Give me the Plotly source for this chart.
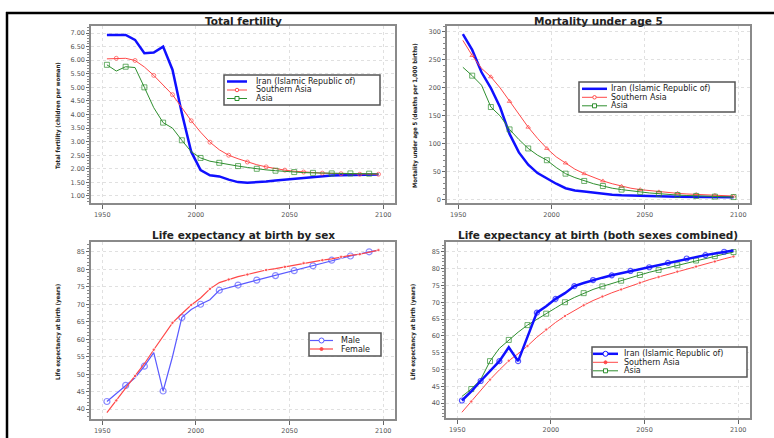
import plotly.graph_objects as go

W, H = 774, 438
FONT = "DejaVu Sans, Verdana, sans-serif"
NARROW = "DejaVu Sans Condensed, Liberation Sans Narrow, Arial Narrow, Liberation Sans, Arial, sans-serif"

# ---------------- data ----------------
years = [1952.5, 1957.5, 1962.5, 1967.5, 1972.5, 1977.5, 1982.5, 1987.5, 1992.5, 1997.5,
         2002.5, 2007.5, 2012.5, 2017.5, 2022.5, 2027.5, 2032.5, 2037.5, 2042.5, 2047.5,
         2052.5, 2057.5, 2062.5, 2067.5, 2072.5, 2077.5, 2082.5, 2087.5, 2092.5, 2097.5]

tfr_iran = [6.93, 6.93, 6.93, 6.75, 6.26, 6.28, 6.50, 5.65, 4.05, 2.63,
            1.95, 1.76, 1.72, 1.60, 1.51, 1.49, 1.50, 1.53, 1.57, 1.60,
            1.63, 1.66, 1.70, 1.73, 1.75, 1.76, 1.77, 1.78, 1.79, 1.79]
tfr_sasia = [6.05, 6.07, 6.07, 5.99, 5.75, 5.44, 5.10, 4.73, 4.25, 3.77,
             3.35, 2.98, 2.70, 2.50, 2.37, 2.25, 2.15, 2.07, 2.00, 1.95,
             1.91, 1.88, 1.86, 1.84, 1.83, 1.82, 1.81, 1.80, 1.80, 1.80]
tfr_asia = [5.83, 5.60, 5.76, 5.73, 5.00, 4.25, 3.70, 3.50, 3.05, 2.63,
            2.40, 2.28, 2.22, 2.15, 2.10, 2.05, 2.00, 1.96, 1.93, 1.90,
            1.88, 1.86, 1.85, 1.84, 1.83, 1.83, 1.83, 1.82, 1.82, 1.81]

u5_iran = [296, 268, 228, 200, 165, 118, 85, 63, 48, 38,
           29, 21, 17, 15, 13, 11, 9.5, 8.5, 7.8, 7.2,
           6.8, 6.4, 6.0, 5.7, 5.5, 5.3, 5.1, 5.0, 4.9, 4.8]
u5_sasia = [285, 258, 235, 220, 200, 176, 152, 130, 110, 92,
            77, 66, 55, 47, 40, 34, 29, 24.5, 21, 18.5,
            16.5, 14.5, 13, 11.8, 10.7, 9.8, 9.0, 8.2, 7.5, 7.0]
u5_asia = [237, 222, 205, 166, 150, 126, 108, 92, 80, 71,
           58, 47, 40, 34, 29, 25, 21, 18.5, 16, 14.5,
           12.5, 11, 9.8, 8.8, 8.0, 7.2, 6.5, 6.0, 5.5, 5.2]

e0_male = [42.2, 44.5, 46.8, 49.0, 52.3, 56.2, 45.2, 55.0, 66.2, 68.5,
           70.0, 71.3, 74.0, 74.8, 75.5, 76.2, 76.9, 77.6, 78.2, 78.9,
           79.6, 80.3, 81.0, 81.8, 82.6, 83.2, 83.8, 84.4, 85.0, 85.5]
e0_female = [39.0, 42.5, 46.0, 49.5, 53.0, 57.0, 61.0, 64.7, 67.3, 69.8,
             71.8, 74.4, 76.2, 77.1, 77.9, 78.5, 79.2, 79.8, 80.2, 80.7,
             81.2, 81.8, 82.2, 82.6, 83.0, 83.6, 84.0, 84.3, 84.8, 85.5]

e0_iran = [40.8, 43.5, 46.6, 49.5, 52.5, 56.6, 52.5, 59.7, 66.9, 68.8,
           71.0, 72.7, 74.8, 75.7, 76.6, 77.3, 78.0, 78.6, 79.3, 79.8,
           80.4, 81.0, 81.7, 82.3, 83.0, 83.5, 84.0, 84.5, 85.0, 85.4]
e0_sasia = [37.3, 40.5, 43.9, 47.0, 49.9, 52.6, 54.7, 57.0, 59.6, 61.9,
            64.0, 65.9, 67.6, 69.1, 70.5, 71.7, 72.8, 73.8, 74.8, 75.8,
            76.7, 77.5, 78.3, 79.1, 79.8, 80.6, 81.4, 82.1, 82.9, 83.6]
e0_asia = [42.0, 44.2, 47.0, 52.5, 56.3, 58.8, 61.1, 63.2, 65.0, 66.6,
           68.3, 70.0, 71.4, 72.7, 73.8, 74.7, 75.6, 76.4, 77.2, 78.1,
           78.9, 79.6, 80.3, 81.0, 81.7, 82.4, 83.0, 83.7, 84.3, 84.9]

titles = ["Total fertility", "Mortality under age 5",
          "Life expectancy at birth by sex", "Life expectancy at birth (both sexes combined)"]
ytitles = ["Total fertility (children per woman)", "Mortality under age 5 (deaths per 1,000 births)",
           "Life expectancy at birth (years)", "Life expectancy at birth (years)"]
names3 = ["Iran (Islamic Republic of)", "Southern Asia", "Asia"]
names_sex = ["Male", "Female"]

BLUE = "#1010ff"
RED = "#ff4848"
GREEN = "#2f8f2f"
MBLUE = "#5a5aff"


def px(x):
    return x / W


def py(y):
    return 1 - y / H


def msizes(n, size, parity):
    return [size if i % 2 == parity else 0 for i in range(n)]


n = len(years)
fig = go.Figure()

# panel 1
fig.add_trace(go.Scatter(x=years, y=tfr_iran, mode="lines", line=dict(color=BLUE, width=2.5),
                         xaxis="x", yaxis="y", showlegend=False))
fig.add_trace(go.Scatter(x=years, y=tfr_sasia, mode="lines+markers", line=dict(color=RED, width=1),
                         marker=dict(symbol="circle-open", size=msizes(n, 4, 1), color=RED, line=dict(width=1)),
                         xaxis="x", yaxis="y", showlegend=False))
fig.add_trace(go.Scatter(x=years, y=tfr_asia, mode="lines+markers", line=dict(color=GREEN, width=1),
                         marker=dict(symbol="square-open", size=msizes(n, 5, 0), color=GREEN, line=dict(width=1)),
                         xaxis="x", yaxis="y", showlegend=False))
# panel 2
fig.add_trace(go.Scatter(x=years, y=u5_iran, mode="lines", line=dict(color=BLUE, width=2.5),
                         xaxis="x2", yaxis="y2", showlegend=False))
fig.add_trace(go.Scatter(x=years, y=u5_sasia, mode="lines+markers", line=dict(color=RED, width=1),
                         marker=dict(symbol="triangle-up-open", size=msizes(n, 4, 1), color=RED, line=dict(width=1)),
                         xaxis="x2", yaxis="y2", showlegend=False))
fig.add_trace(go.Scatter(x=years, y=u5_asia, mode="lines+markers", line=dict(color=GREEN, width=1),
                         marker=dict(symbol="square-open", size=msizes(n, 5, 1), color=GREEN, line=dict(width=1)),
                         xaxis="x2", yaxis="y2", showlegend=False))
# panel 3
fig.add_trace(go.Scatter(x=years, y=e0_male, mode="lines+markers", line=dict(color=MBLUE, width=1.2),
                         marker=dict(symbol="circle-open", size=msizes(n, 6, 0), color=MBLUE, line=dict(width=1.2)),
                         xaxis="x3", yaxis="y3", showlegend=False))
fig.add_trace(go.Scatter(x=years, y=e0_female, mode="lines+markers", line=dict(color=RED, width=1.2),
                         marker=dict(symbol="circle", size=msizes(n, 3.5, 1), color=RED),
                         xaxis="x3", yaxis="y3", showlegend=False))
# panel 4
fig.add_trace(go.Scatter(x=years, y=e0_sasia, mode="lines+markers", line=dict(color=RED, width=1),
                         marker=dict(symbol="circle", size=msizes(n, 3.5, 1), color=RED),
                         xaxis="x4", yaxis="y4", showlegend=False))
fig.add_trace(go.Scatter(x=years, y=e0_asia, mode="lines+markers", line=dict(color=GREEN, width=1),
                         marker=dict(symbol="square-open", size=msizes(n, 5, 1), color=GREEN, line=dict(width=1)),
                         xaxis="x4", yaxis="y4", showlegend=False))
fig.add_trace(go.Scatter(x=years, y=e0_iran, mode="lines+markers", line=dict(color=BLUE, width=2.5),
                         marker=dict(symbol="circle-open", size=msizes(n, 5, 0), color=BLUE, line=dict(width=1.2)),
                         xaxis="x4", yaxis="y4", showlegend=False))

# ---------------- axes ----------------
boxes = [(91, 395, 26, 203), (447, 750, 26, 203), (91, 395, 242, 419), (446, 750, 242, 418)]
title_y = [20.5, 20.5, 235, 235]
yranges = [[0.74, 7.26], [-5.4, 310.7], [37.2, 87.8], [35.6, 87.9]]
ydticks = [0.5, 50, 5, 5]
ytick0 = [1, 0, 40, 40]
yminor = [0.1, 10, 1, 1]
yfmt = [".2f", "d", "d", "d"]

tickfont = dict(family=FONT, size=6.5, color="#555")
layout = dict(width=W, height=H, margin=dict(l=0, r=0, t=0, b=0),
              paper_bgcolor="white", plot_bgcolor="white", showlegend=False)
for i, (x0, x1, y0, y1) in enumerate(boxes):
    sfx = "" if i == 0 else str(i + 1)
    layout["xaxis" + sfx] = dict(
        domain=[px(x0), px(x1)], range=[1944, 2106.3], anchor="y" + sfx,
        tickvals=[1950, 2000, 2050, 2100], ticks="outside", ticklen=4, tickcolor="#666",
        showline=True, mirror=True, linecolor="#8a8a8a", linewidth=1.5,
        showgrid=True, gridcolor="#e0e0e0", griddash="dot", gridwidth=1,
        zeroline=False, tickfont=tickfont, fixedrange=True)
    layout["yaxis" + sfx] = dict(
        domain=[py(y1), py(y0)], range=yranges[i], anchor="x" + sfx,
        tick0=ytick0[i], dtick=ydticks[i], tickformat=yfmt[i],
        ticks="outside", ticklen=3, tickcolor="#666",
        minor=dict(dtick=yminor[i], ticks="outside", ticklen=2, tickcolor="#888", showgrid=False),
        showline=True, mirror=True, linecolor="#8a8a8a", linewidth=1.5,
        showgrid=True, gridcolor="#e0e0e0", griddash="dot", gridwidth=1,
        zeroline=False, tickfont=tickfont, fixedrange=True)

annotations = []
shapes = []
# titles
for i, (x0, x1, y0, y1) in enumerate(boxes):
    annotations.append(dict(text="<b>" + titles[i] + "</b>", x=px((x0 + x1) / 2), y=py(title_y[i]),
                            xref="paper", yref="paper", showarrow=False, xanchor="center", yanchor="middle",
                            font=dict(family=FONT, size=10.5, color="#222")))
ypos = [(58, 116), (415, 116), (58, 332), (413, 332)]
for i, (xx, yy) in enumerate(ypos):
    annotations.append(dict(text="<b>" + ytitles[i] + "</b>", x=px(xx), y=py(yy), textangle=-90,
                            xref="paper", yref="paper", showarrow=False, xanchor="center", yanchor="middle",
                            font=dict(family=NARROW, size=6, color="#222")))

# black frame lines
shapes.append(dict(type="line", xref="paper", yref="paper", x0=px(6), x1=1, y0=py(13), y1=py(13),
                   line=dict(color="black", width=2.5)))
shapes.append(dict(type="line", xref="paper", yref="paper", x0=px(7), x1=px(7), y0=py(12), y1=0,
                   line=dict(color="black", width=2.5)))


def legend(box, line_x, text_x, rows, entries):
    bx0, bx1, by0, by1 = box
    shapes.append(dict(type="rect", xref="paper", yref="paper", x0=px(bx0), x1=px(bx1),
                       y0=py(by1), y1=py(by0), line=dict(color="#555", width=1.5), fillcolor="white",
                       layer="above"))
    for (label, color, width, sym, msz), ry in zip(entries, rows):
        shapes.append(dict(type="line", xref="paper", yref="paper", x0=px(line_x[0]), x1=px(line_x[1]),
                           y0=py(ry), y1=py(ry), line=dict(color=color, width=width), layer="above"))
        if sym:
            cx = (line_x[0] + line_x[1]) / 2
            h = msz / 2
            kind = "rect" if sym == "square" else "circle"
            fill = color if sym == "dot" else "white"
            shapes.append(dict(type=kind, xref="paper", yref="paper", x0=px(cx - h), x1=px(cx + h),
                               y0=py(ry + h), y1=py(ry - h), line=dict(color=color, width=1),
                               fillcolor=fill, layer="above"))
        annotations.append(dict(text=label, x=px(text_x), y=py(ry), xref="paper", yref="paper",
                                xanchor="left", yanchor="middle", showarrow=False,
                                font=dict(family=FONT, size=8, color="#222")))


legend((224, 380, 75, 105), (227, 247), 254, [81.5, 90, 98.5],
       [(names3[0], BLUE, 2.5, None, 0), (names3[1], RED, 1, "circle", 3.5), (names3[2], GREEN, 1, "square", 4)])
legend((579, 735, 82, 112), (582, 607), 609, [88.8, 97.3, 105.8],
       [(names3[0], BLUE, 2.5, None, 0), (names3[1], RED, 1, "circle", 3.5), (names3[2], GREEN, 1, "square", 4)])
legend((309, 381, 333, 356), (310, 333), 339, [340.5, 349.0],
       [(names_sex[0], MBLUE, 1.2, "circle", 5), (names_sex[1], RED, 1.2, "dot", 3)])
legend((592, 747, 347, 377), (593, 618), 622, [353.8, 362.3, 370.8],
       [(names3[0], BLUE, 2.5, "circle", 5), (names3[1], RED, 1, "dot", 3), (names3[2], GREEN, 1, "square", 4)])

layout["annotations"] = annotations
layout["shapes"] = shapes
fig.update_layout(**layout)
fig.write_html("out.html", config={"displayModeBar": False},
               post_script="document.body.style.margin='0px';document.body.style.padding='0px';")
